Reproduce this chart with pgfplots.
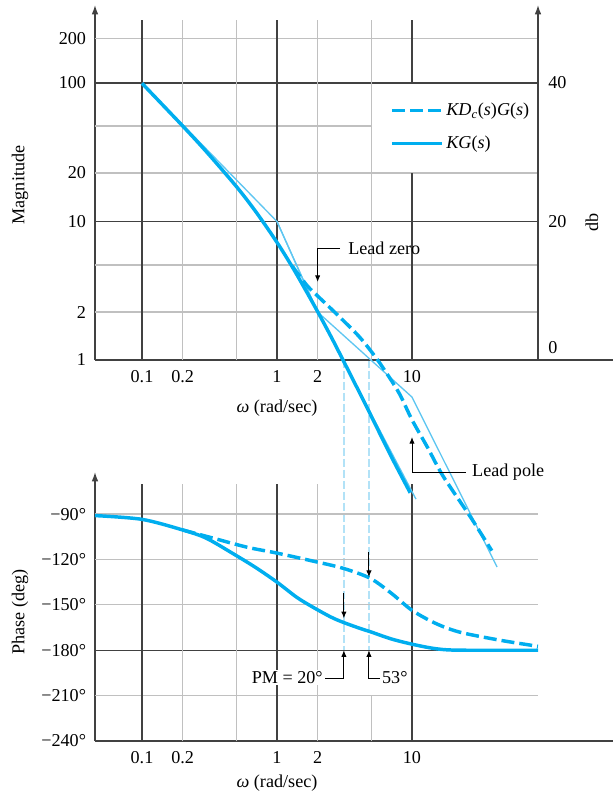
\documentclass[border=0pt]{standalone}
\usepackage{fontspec}
\setmainfont{Liberation Serif}
\usepackage{pgfplots}
\pgfplotsset{compat=1.18}
\usetikzlibrary{arrows.meta}

\definecolor{bodeblue}{RGB}{0,174,239}
\definecolor{asymblue}{RGB}{95,198,241}
\definecolor{markblue}{RGB}{178,226,247}
\definecolor{gridgray}{RGB}{192,192,192}
\definecolor{griddark}{RGB}{65,65,65}

\newcommand{\fs}{\fontsize{13.6}{16}\selectfont}

\tikzset{
  thinline/.style={asymblue, line width=1pt},
  thickline/.style={bodeblue, line width=2.6pt},
  gdark/.style={griddark, line width=0.9pt},
  glight/.style={gridgray, line width=0.9pt},
  annarrow/.style={-{Latex[length=5pt,width=4pt]}, black, line width=0.7pt},
  crossmark/.style={markblue, line width=1pt, dash pattern=on 6pt off 2.25pt},
}

\begin{document}
\begin{tikzpicture}
\useasboundingbox (0,0) rectangle (459.75pt,-597pt);

% ---------------- phase ----------------
\begin{axis}[scale only axis, width=388.5pt, height=201.75pt,
  at={(71.25pt,-555.75pt)}, anchor=south west,
  xmode=log, xmin=0.04486, xmax=308.3, ymin=-240, ymax=-62.2, clip=false,
  axis x line=bottom, axis y line=left,
  x axis line style={-, griddark, line width=1pt},
  y axis line style={-{Latex[length=7pt,width=5pt]}, griddark, line width=1pt},
  major tick length=0pt,
  xtick={0.1,0.2,1,2,10}, xticklabels={0.1,0.2,1,2,10},
  ytick={-240,-210,-180,-150,-120,-90},
  yticklabels={−240°,−210°,−180°,−150°,−120°,−90°},
  tick label style={font=\fs},
  xticklabel style={anchor=base, yshift=-17pt},
  yticklabel style={anchor=east, inner sep=0pt, xshift=-6.5pt}]
  % crossover markers
  \draw[crossmark] (axis cs:3.13,12) -- (axis cs:3.13,-180);
  \draw[crossmark] (axis cs:4.8,12) -- (axis cs:4.8,-180);
  % grid
  \draw[glight] (axis cs:0.04486,-90) -- (axis cs:85.8,-90);
  \draw[glight] (axis cs:0.04486,-120) -- (axis cs:85.8,-120);
  \draw[glight] (axis cs:0.04486,-150) -- (axis cs:85.8,-150);
  \draw[glight] (axis cs:0.04486,-210) -- (axis cs:85.8,-210);
  \draw[gdark] (axis cs:0.04486,-180) -- (axis cs:85.8,-180);
  \draw[gdark] (axis cs:0.1,-240) -- (axis cs:0.1,-70);
  \draw[gdark] (axis cs:1,-240) -- (axis cs:1,-70);
  \draw[gdark] (axis cs:10,-240) -- (axis cs:10,-70);
  \draw[glight] (axis cs:0.2,-240) -- (axis cs:0.2,-70);
  \draw[glight] (axis cs:0.5,-240) -- (axis cs:0.5,-70);
  \draw[glight] (axis cs:2,-240) -- (axis cs:2,-70);
  \draw[glight] (axis cs:5,-240) -- (axis cs:5,-210);
  % KG(s)
  \addplot[thickline, smooth, tension=0.5] coordinates {(0.04486,-91) (0.1,-93.5) (0.2,-100.5) (0.3,-106) (0.49,-117) (0.7,-125.5) (1,-135) (1.4,-145) (1.85,-151.6) (2.5,-158) (3.08,-161.5) (4.1,-165.5) (5,-168) (7,-172.5) (10,-176) (14,-178.6) (18,-179.7) (25,-180) (85.8,-180)};
  % KDc(s)G(s)
  \addplot[thickline, smooth, tension=0.5, dash pattern=on 9.75pt off 3.75pt] coordinates {(0.2,-100.5) (0.336,-105.9) (0.6,-111.9) (1,-115.8) (1.85,-121.1) (3.08,-125.8) (4.89,-132.4) (7,-142.2) (10,-153.6) (15,-162.3) (22.7,-168.1) (45,-173.4) (85.8,-177.4)};
  % annotations
  \draw[annarrow] (axis cs:3.13,-142.3) -- (axis cs:3.13,-158.9);
  \draw[annarrow] (axis cs:4.8,-115.2) -- (axis cs:4.8,-131.7);
  \draw[annarrow] (axis cs:2.27,-198.6) -- (axis cs:3.13,-198.6) -- (axis cs:3.13,-180);
  \draw[annarrow] (axis cs:5.79,-198.6) -- (axis cs:4.8,-198.6) -- (axis cs:4.8,-180);
  \node[font=\fs, anchor=east, fill=white, inner sep=1pt] at (axis cs:2.24,-198.3) {PM = 20°};
  \node[font=\fs, anchor=west, inner sep=1pt] at (axis cs:5.85,-198.3) {53°};
\end{axis}

% ---------------- magnitude ----------------
\begin{axis}[scale only axis, width=388.5pt, height=266.25pt,
  at={(71.25pt,-270pt)}, anchor=south west,
  xmode=log, ymode=log, xmin=0.04486, xmax=308.3, ymin=1, ymax=365.9, clip=false,
  axis x line=bottom, axis y line=left,
  x axis line style={-, griddark, line width=1pt},
  y axis line style={-{Latex[length=7pt,width=5pt]}, griddark, line width=1pt},
  major tick length=0pt,
  xtick={0.1,0.2,1,2,10}, xticklabels={0.1,0.2,1,2,10},
  ytick={1,2.22,10,22.4,100,211}, yticklabels={1,2,10,20,100,200},
  tick label style={font=\fs},
  xticklabel style={anchor=base, yshift=-17pt},
  yticklabel style={anchor=east, inner sep=0pt, xshift=-6.5pt},
  reverse legend,
  legend image code/.code={\draw[#1] (0pt,0pt) -- (37.5pt,0pt);},
  legend style={at={(axis cs:6.87,75.4)}, anchor=north west, draw=none, fill=none,
    inner sep=0pt, row sep=10pt, font=\fs},
  legend cell align=left]
  % grid
  \draw[glight] (axis cs:0.04486,2.22) -- (axis cs:85.8,2.22);
  \draw[glight] (axis cs:0.04486,4.85) -- (axis cs:85.8,4.85);
  \draw[glight] (axis cs:0.04486,22.4) -- (axis cs:85.8,22.4);
  \draw[glight] (axis cs:0.04486,48.9) -- (axis cs:5,48.9);
  \draw[glight] (axis cs:0.04486,211) -- (axis cs:85.8,211);
  \draw[gdark] (axis cs:0.04486,10) -- (axis cs:85.8,10);
  \draw[gdark] (axis cs:0.04486,100) -- (axis cs:85.8,100);
  \draw[glight] (axis cs:0.2,1) -- (axis cs:0.2,285);
  \draw[glight] (axis cs:0.5,1) -- (axis cs:0.5,285);
  \draw[glight] (axis cs:2,1) -- (axis cs:2,285);
  \draw[glight] (axis cs:5,1) -- (axis cs:5,285);
  \draw[gdark] (axis cs:0.1,1) -- (axis cs:0.1,285);
  \draw[gdark] (axis cs:1,1) -- (axis cs:1,285);
  \draw[gdark] (axis cs:10,1) -- (axis cs:10,22.4);
  \draw[gdark] (axis cs:10,100) -- (axis cs:10,285);
  % db axis
  \draw[griddark, line width=1pt, -{Latex[length=7pt,width=5pt]}] (axis cs:85.8,1) -- (axis cs:85.8,365.9);
  \node[font=\fs, anchor=west, inner sep=0pt, xshift=7.5pt] at (axis cs:85.8,100) {40};
  \node[font=\fs, anchor=west, inner sep=0pt, xshift=7.5pt] at (axis cs:85.8,10) {20};
  \node[font=\fs, anchor=west, inner sep=0pt, xshift=7.5pt] at (axis cs:85.8,1.22) {0};
  % asymptotes
  \addplot[thinline, forget plot] coordinates {(0.1,100) (1,10) (2,2.22) (10.7,0.099)};
  \addplot[thinline, forget plot] coordinates {(1,10) (2,2.22) (10,0.54) (42.7,0.032)};
  % KG(s)
  \addplot[thickline, smooth, tension=0.5] coordinates {(0.1,99.5) (0.2,49) (0.3,31.9) (0.5,17.9) (0.7,11.7) (1,7.07) (1.3,4.69) (1.6,3.3) (2,2.236) (2.5,1.49) (3,1.054) (4,0.606) (5,0.392) (7,0.202) (9.7,0.11)};
  \addlegendentry{\textit{KG}(\textit{s})}
  % KDc(s)G(s)
  \addplot[thickline, smooth, tension=0.5, dash pattern=on 9.75pt off 3.75pt] coordinates {(1.3,4.75) (1.67,3.45) (2,2.9) (2.83,2.1) (4,1.5) (5,1.15) (6,0.9) (8,0.58) (10,0.37) (13,0.235) (17,0.145) (27,0.074) (39,0.042)};
  \addlegendentry{\textit{KD}\textsubscript{\textit{c}}(\textit{s})\textit{G}(\textit{s})}
  % lead zero / lead pole
  \draw[annarrow] (axis cs:2.93,6.43) -- (axis cs:2,6.43) -- (axis cs:2,3.66);
  \node[font=\fs, anchor=west, inner sep=0pt] at (axis cs:3.36,6.43) {Lead zero};
  \draw[annarrow] (axis cs:25.1,0.155) -- (axis cs:10,0.155) -- (axis cs:10,0.278);
  \node[font=\fs, anchor=west, inner sep=0pt] at (axis cs:27.8,0.155) {Lead pole};
\end{axis}

\node[font=\fs, rotate=90] at (15pt,-138.75pt) {Magnitude};
\node[font=\fs, rotate=90] at (15pt,-459pt) {Phase (deg)};
\node[font=\fs, rotate=90] at (444pt,-166.5pt) {db};
\node[font=\fs] at (207.75pt,-306pt) {\textit{ω} (rad/sec)};
\node[font=\fs] at (207.75pt,-587.25pt) {\textit{ω} (rad/sec)};
\end{tikzpicture}
\end{document}
